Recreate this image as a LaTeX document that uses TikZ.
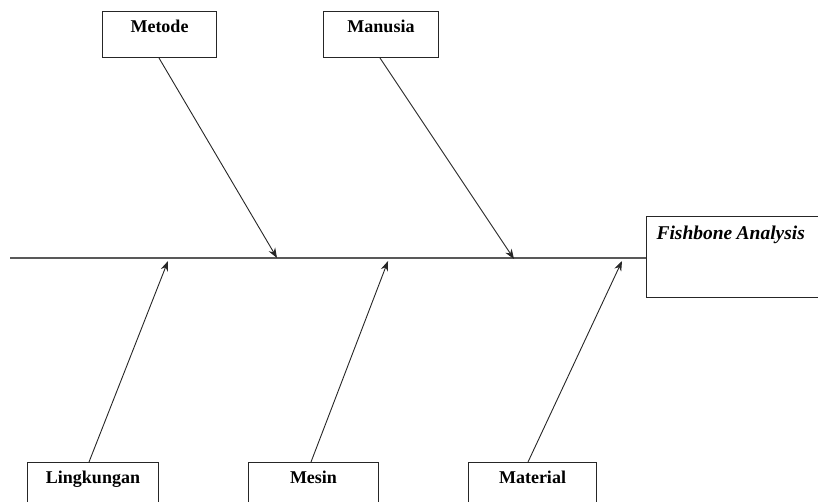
\documentclass[tikz,border=0pt]{standalone}
\usepackage{fontspec}
\setmainfont{Liberation Serif}
\usetikzlibrary{arrows.meta}
\begin{document}
\begin{tikzpicture}[x=1pt,y=-1pt,
  catbox/.style={draw=black!85,line width=1pt,inner sep=0pt,anchor=north west,
    text height=21pt,text depth=25pt,align=center,
    font=\fontsize{18}{18}\selectfont\bfseries},
  headbox/.style={draw=black!85,line width=1pt,inner sep=0pt,inner xsep=10pt,anchor=north west,
    text height=23pt,text depth=58pt,align=left,text width=172pt,
    font=\fontsize{19.5}{19.5}\selectfont\bfseries\itshape},
  spine/.style={draw=black!65,line width=1.6pt},
  bone/.style={draw=black!85,line width=0.9pt,-{Stealth[length=10pt,width=7.5pt]}}]
\useasboundingbox (0,0) rectangle (818,501);
\node[catbox,minimum width=114pt] (metode) at (102,11) {Metode};
\node[catbox,minimum width=115pt] (manusia) at (323,11) {Manusia};
\node[headbox] (head) at (646,216) {Fishbone\hspace{0.22em}Analysis};
\node[catbox,minimum width=131pt] (lingkungan) at (27,462) {Lingkungan};
\node[catbox,minimum width=130pt] (mesin) at (248,462) {Mesin};
\node[catbox,minimum width=128pt] (material) at (468,462) {Material};
\coordinate (tail) at (10,258);
\coordinate (spineend) at (646,258);
\coordinate (tmetode) at (277,258);
\coordinate (tmanusia) at (514,259);
\coordinate (tling) at (168,261);
\coordinate (tmesin) at (388,261);
\coordinate (tmat) at (622,261);
\draw[spine] (tail) -- (head.west |- spineend);
\draw[bone] (metode.south -| 159,0) -- (tmetode);
\draw[bone] (manusia.south -| 380,0) -- (tmanusia);
\draw[bone] (lingkungan.north -| 89,0) -- (tling);
\draw[bone] (mesin.north -| 311,0) -- (tmesin);
\draw[bone] (material.north -| 528,0) -- (tmat);
\end{tikzpicture}
\end{document}
